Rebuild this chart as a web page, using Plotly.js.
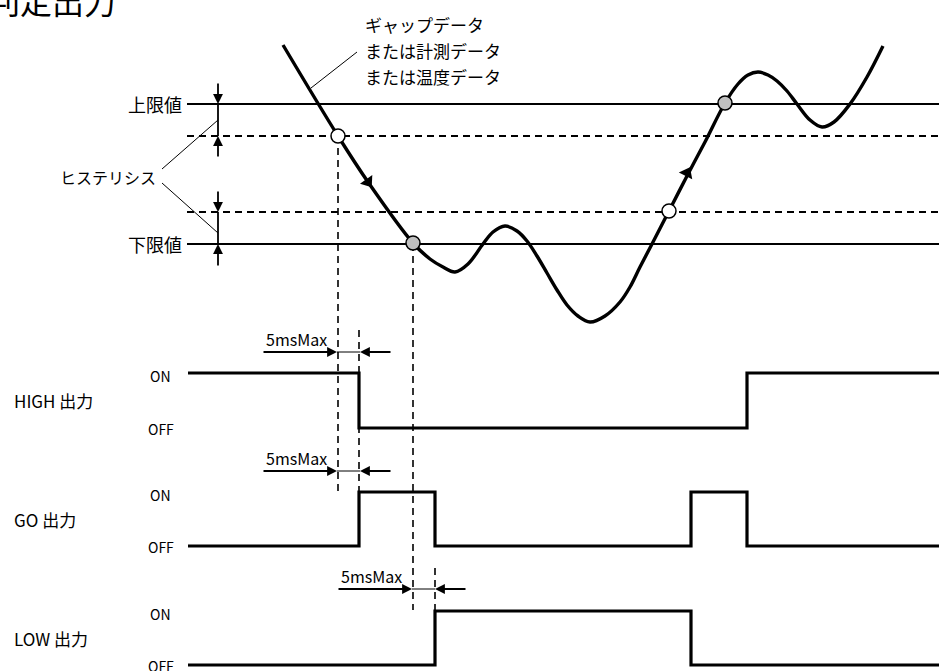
<!DOCTYPE html>
<html>
<head>
<meta charset="utf-8">
<script src="https://cdn.plot.ly/plotly-3.0.1.min.js"></script>
<style>html,body{margin:0;padding:0;background:#fff;}#chart{width:939px;height:671px;}</style>
</head>
<body>
<div id="chart"></div>
<script>
// ---- data (time axis t, level axis v; v grows downward) ----
var curveT = [283, 338, 368, 413, 430, 443, 455, 468, 483, 493, 505, 517, 527, 537, 547, 557, 567, 578, 590, 605, 620, 630, 640, 652, 669, 687, 705, 725, 738, 748, 758, 768, 777, 787, 797, 810, 822, 834, 850, 867, 883];
var curveV = [45, 136, 182, 243, 259, 267, 272, 264, 244, 232, 226, 231, 241, 256, 273, 290, 305, 316, 322, 316, 302, 287, 267, 244, 211, 176, 142, 103, 84, 75, 72, 75, 81, 91, 104, 120, 127, 122, 104, 77, 46];

var thresholdNames = ['上限値', 'upperHys', 'lowerHys', '下限値'];
var thresholdLevels = [104, 136, 212, 244];

var openPtT = [338, 669];   var openPtV = [136, 211];
var grayPtT = [413, 725];   var grayPtV = [243, 103];
var dirArrowT = [368, 687]; var dirArrowV = [182, 173]; var dirArrowAngle = [145, 27];

var signalNames = ['HIGH 出力', 'GO 出力', 'LOW 出力'];
var highT = [188, 359, 747, 939]; var highS = ['ON', 'OFF', 'ON', 'ON'];
var goT   = [188, 359, 435, 691, 747, 939]; var goS = ['OFF', 'ON', 'OFF', 'ON', 'OFF', 'OFF'];
var lowT  = [188, 435, 691, 939]; var lowS = ['OFF', 'ON', 'OFF', 'OFF'];
var signalOn  = [373, 492, 611];
var signalOff = [428, 546, 665];

var delayLabel = '5msMax';
var delayStart = [337, 337, 412];   // detection time
var delayEnd   = [360, 360, 435];   // output change time
var delayRow   = [352, 471, 589];

var dashT = [338, 413, 359, 435];
var dashFrom = [136, 244, 330, 568];
var dashTo = [493, 610, 492, 612];

// ---- build ----
var FONT = '"Noto Sans CJK JP", "Noto Sans", sans-serif';
var traces = [];
var DASH = '7px,5px';

thresholdLevels.forEach(function (lv, i) {
  traces.push({x: [187, 939], y: [lv, lv], mode: 'lines', hoverinfo: 'skip',
    line: {color: '#000', width: 1.8, dash: (i === 1 || i === 2) ? DASH : 'solid'}});
});
dashT.forEach(function (t, i) {
  traces.push({x: [t, t], y: [dashFrom[i], dashTo[i]], mode: 'lines', hoverinfo: 'skip',
    line: {color: '#000', width: 1.6, dash: DASH}});
});
function thin(xs, ys, w) {
  traces.push({x: xs, y: ys, mode: 'lines', hoverinfo: 'skip', line: {color: '#000', width: w || 1}});
}
thin([218, 218], [thresholdLevels[0], thresholdLevels[1]], 1.8);
thin([218, 218], [thresholdLevels[2], thresholdLevels[3]], 1.8);
thin([162, 218], [169, 120]);
thin([162, 218], [183, 233]);
thin([311, 357], [88, 52]);
delayRow.forEach(function (r, i) { thin([delayStart[i], delayEnd[i]], [r, r], 1); });

traces.push({x: curveT, y: curveV, mode: 'lines', hoverinfo: 'skip',
  line: {color: '#000', width: 3.4, shape: 'spline', smoothing: 1}});
traces.push({x: dirArrowT, y: dirArrowV, mode: 'markers', hoverinfo: 'skip',
  marker: {symbol: 'triangle-up', size: 13, angle: dirArrowAngle, color: '#000'}});
traces.push({x: openPtT, y: openPtV, mode: 'markers', hoverinfo: 'skip',
  marker: {symbol: 'circle', size: 14, color: '#fff', line: {color: '#000', width: 1.5}}});
traces.push({x: grayPtT, y: grayPtV, mode: 'markers', hoverinfo: 'skip',
  marker: {symbol: 'circle', size: 14, color: '#c0c0c0', line: {color: '#000', width: 1.5}}});

var sigT = [highT, goT, lowT], sigS = [highS, goS, lowS];
sigT.forEach(function (ts, i) {
  traces.push({x: ts, y: sigS[i].map(function (s) { return s === 'ON' ? signalOn[i] : signalOff[i]; }),
    mode: 'lines', hoverinfo: 'skip', line: {color: '#000', width: 3.2, shape: 'hv'}});
});

var ann = [];
function txt(t, x, y, size, xanchor) {
  ann.push({text: t, x: x, y: y, xref: 'x', yref: 'y', showarrow: false,
    xanchor: xanchor || 'left', yanchor: 'middle', font: {family: FONT, size: size, color: '#000'}});
}
function arrow(x, y, ax, ay, w) {
  ann.push({text: '', x: x, y: y, ax: ax, ay: ay, xref: 'x', yref: 'y', axref: 'x', ayref: 'y',
    showarrow: true, arrowhead: 2, arrowsize: 1.1, arrowwidth: w || 1.8, arrowcolor: '#000', standoff: 0});
}
// title (partly outside the picture, as in the reference)
ann.push({text: '判定出力', x: -14 / 939, y: 1.0, xref: 'paper', yref: 'paper', showarrow: false,
  xanchor: 'left', yanchor: 'middle', font: {family: FONT, size: 32, color: '#000'}});
txt('ギャップデータ', 363, 24, 17);
txt('または計測データ', 363, 50, 17);
txt('または温度データ', 363, 76, 17);
txt(thresholdNames[0], 184, thresholdLevels[0], 18, 'right');
txt(thresholdNames[3], 184, thresholdLevels[3], 18, 'right');
txt('ヒステリシス', 158, 177, 16, 'right');
signalNames.forEach(function (n, i) {
  txt(n, 12, (signalOn[i] + signalOff[i]) / 2, 17);
  txt('ON', 160, signalOn[i] + 3, 14, 'center');
  txt('OFF', 161, signalOff[i] + 1, 14, 'center');
});
arrow(218, thresholdLevels[0], 218, thresholdLevels[0] - 22);
arrow(218, thresholdLevels[1], 218, thresholdLevels[1] + 22);
arrow(218, thresholdLevels[2], 218, thresholdLevels[2] - 22);
arrow(218, thresholdLevels[3], 218, thresholdLevels[3] + 23);
delayRow.forEach(function (r, i) {
  arrow(delayStart[i], r, delayStart[i] - 75, r);
  arrow(delayEnd[i], r, delayEnd[i] + 32, r);
  txt(delayLabel, delayStart[i] - 41, r - 13, 16, 'center');
});

var layout = {
  width: 939, height: 671, margin: {l: 0, r: 0, t: 0, b: 0, pad: 0},
  paper_bgcolor: '#fff', plot_bgcolor: '#fff', showlegend: false,
  font: {family: FONT},
  xaxis: {range: [0, 939], visible: false, fixedrange: true},
  yaxis: {range: [671, 0], visible: false, fixedrange: true},
  annotations: ann
};
Plotly.newPlot('chart', traces, layout, {staticPlot: true, displayModeBar: false});
</script>
</body>
</html>
